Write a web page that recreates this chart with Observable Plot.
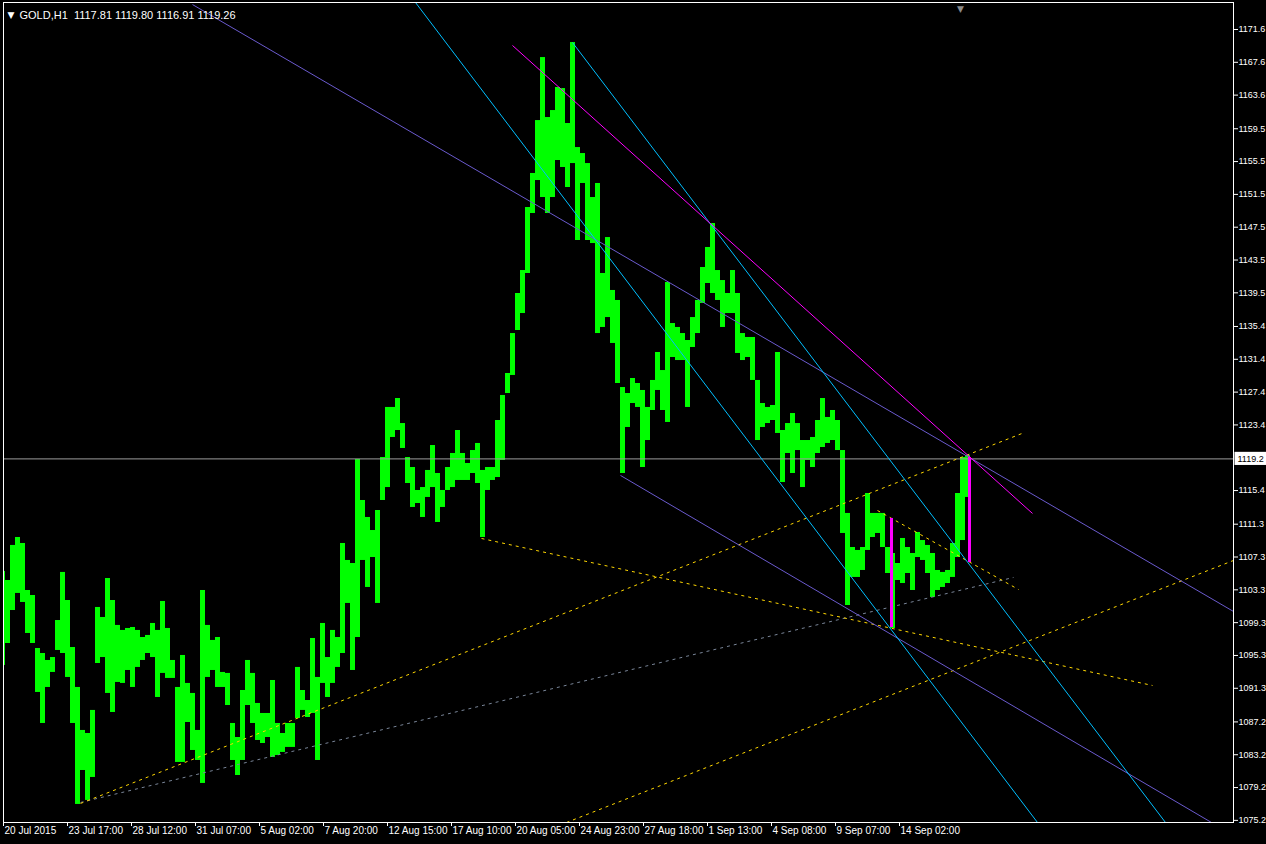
<!DOCTYPE html>
<html>
<head>
<meta charset="utf-8">
<script src="https://cdn.jsdelivr.net/npm/d3@7"></script>
<script src="https://cdn.jsdelivr.net/npm/@observablehq/plot@0.6"></script>
<style>
  html, body { margin: 0; padding: 0; background: #000; overflow: hidden; }
  #chart svg { display: block; }
</style>
</head>
<body>
<div id="chart"></div>
<script>
// ---- Data (GOLD, H1, each entry summarises 5 hourly bars) ----
const symbolTitle = "GOLD,H1  1117.81 1119.80 1116.91 1119.26";
const lastPrice = 1119.26;
const lastPriceLabel = "1119.2";
const hoursPerBar = 5;

const highs = [
  1105.54,1104.44,1108.71,1109.68,1108.95,1103.22,1102.61,1096.15,1095.54,1094.69,
  1095.05,1099.56,1105.42,1102.00,1096.27,1091.40,1086.16,1085.79,1088.60,1101.15,
  1099.93,1104.68,1102.00,1098.96,1098.35,1098.59,1098.71,1098.35,1097.49,1097.74,
  1099.20,1098.35,1101.88,1098.59,1094.69,1091.40,1095.30,1091.89,1090.67,1086.16,
  1103.22,1098.96,1097.13,1097.49,1093.23,1093.11,1087.01,1085.30,1091.03,1094.69,
  1093.11,1089.45,1088.23,1088.23,1092.25,1087.01,1085.79,1087.01,1087.01,1093.84,
  1091.03,1089.81,1097.37,1092.62,1099.20,1095.05,1098.35,1097.49,1108.95,1106.88,
  1106.51,1119.19,1114.19,1112.12,1110.53,1112.97,1119.43,1125.53,1125.53,1126.62,
  1123.57,1119.43,1118.21,1115.41,1115.77,1117.85,1120.89,1117.48,1115.41,1118.21,
  1119.92,1122.72,1119.92,1118.70,1120.28,1121.14,1117.85,1118.21,1118.21,1123.94,
  1126.99,1129.67,1134.54,1139.42,1142.22,1149.90,1154.05,1160.50,1168.18,1160.87,
  1161.72,1164.53,1164.40,1160.14,1170.01,1157.21,1156.48,1155.26,1151.12,1152.83,
  1141.86,1146.24,1139.79,1138.57,1127.96,1127.23,1129.06,1128.45,1127.60,1125.53,
  1128.82,1132.23,1130.03,1140.76,1135.76,1135.28,1134.54,1133.69,1136.49,1138.57,
  1142.59,1145.03,1147.95,1142.22,1141.00,1139.42,1142.22,1139.42,1134.54,1134.06,
  1134.06,1128.82,1126.01,1125.53,1125.77,1132.23,1122.72,1123.57,1124.79,1123.57,
  1121.50,1121.50,1121.87,1123.94,1126.62,1124.31,1125.16,1123.94,1120.28,1112.61,
  1108.46,1108.10,1108.46,1115.04,1112.61,1112.61,1112.61,1108.46,1107.73,1106.51,
  1109.56,1108.46,1107.73,1110.29,1109.31,1108.71,1107.73,1105.66,1105.42,1105.66,
  1108.95,1115.04,1119.43,1119.67
];
const lows = [
  1094.08,1096.76,1100.78,1102.86,1101.76,1097.98,1096.76,1090.79,1087.01,1091.40,
  1093.23,1095.91,1095.54,1092.62,1087.01,1077.14,1081.28,1077.63,1080.43,1094.32,
  1095.05,1090.67,1088.35,1092.01,1091.89,1093.47,1091.40,1093.84,1094.69,1095.54,
  1095.05,1090.18,1093.11,1092.50,1092.50,1082.26,1082.26,1087.13,1083.72,1082.50,
  1079.70,1092.62,1093.47,1091.40,1091.40,1089.20,1082.50,1080.67,1082.50,1089.20,
  1087.01,1084.94,1084.57,1085.30,1082.87,1083.11,1083.48,1084.09,1084.09,1087.62,
  1088.60,1087.74,1088.23,1082.50,1091.89,1090.18,1091.89,1093.84,1095.54,1101.64,
  1093.47,1097.49,1106.88,1103.59,1107.24,1101.64,1114.19,1115.77,1121.87,1122.72,
  1120.53,1116.26,1113.34,1113.82,1112.12,1114.56,1115.77,1111.51,1113.34,1115.41,
  1115.77,1116.63,1116.63,1116.63,1117.48,1116.26,1109.68,1115.41,1116.63,1116.99,
  1119.07,1127.23,1129.43,1134.91,1136.98,1141.86,1149.17,1153.19,1151.12,1149.17,
  1151.12,1155.63,1154.78,1152.34,1155.26,1145.88,1152.83,1145.88,1145.51,1134.54,
  1135.28,1136.49,1133.33,1128.45,1117.48,1123.09,1126.01,1125.53,1118.21,1121.50,
  1125.16,1127.60,1125.16,1123.70,1131.62,1131.25,1131.25,1125.53,1132.84,1134.54,
  1138.20,1140.64,1139.42,1138.57,1135.28,1136.98,1136.98,1132.11,1131.25,1131.62,
  1128.82,1121.50,1123.09,1123.57,1123.94,1122.36,1116.38,1119.92,1117.48,1120.28,
  1115.77,1119.07,1118.21,1119.92,1120.65,1121.14,1121.50,1120.28,1110.17,1101.39,
  1104.81,1104.81,1105.66,1108.10,1109.68,1110.17,1108.46,1105.29,1098.59,1104.44,
  1104.07,1105.29,1103.22,1107.24,1106.88,1105.29,1102.37,1103.22,1103.59,1104.07,
  1104.81,1107.24,1109.31,1114.56
];

// price axis labels (right); the 1119.4 level is hidden under the last-price box
const priceTicks = [1171.6,1167.6,1163.6,1159.5,1155.5,1151.5,1147.5,1143.5,1139.5,1135.4,
  1131.4,1127.4,1123.4,1115.4,1111.3,1107.3,1103.3,1099.3,1095.3,1091.3,1087.2,
  1083.2,1079.2,1075.2];

// time axis labels (bottom), bar index of each label
const timeTickBars = [0,64,128,192,256,320,384,448,512,576,640,704,768,832,896];
const timeLabels = ["20 Jul 2015","23 Jul 17:00","28 Jul 12:00","31 Jul 07:00","5 Aug 02:00",
  "7 Aug 20:00","12 Aug 15:00","17 Aug 10:00","20 Aug 05:00","24 Aug 23:00","27 Aug 18:00",
  "1 Sep 13:00","4 Sep 08:00","9 Sep 07:00","14 Sep 02:00"];

// trend lines: [bar1, price1, bar2, price2]
const violetLines = [[189,1174.64,1230,1100.66],[617,1117.24,1208,1074.94]];
const cyanLines = [[412,1174.89,1034,1074.94],[569,1170.01,1162,1074.94]];
const magentaLines = [[509,1169.65,1029,1112.61]];
const magentaBars = [[888,1112.00,1098.71],[966,1119.43,1106.63]];
const yellowLines = [[77,1077.26,1021,1122.48],[478,1109.56,1149,1091.64],
  [563,1074.94,1230,1106.88],[874,1112.97,1015,1103.34]];
const grayLines = [[77,1077.38,1010,1104.81]];
const shiftMarkerBar = 957;

// ---- build ----
const bars = highs.map((h, i) => ({
  x1: Math.max(0, i * hoursPerBar - 3),
  x2: i * hoursPerBar + 2,
  high: h,
  low: lows[i]
}));
const toSeg = a => ({x1: a[0], y1: a[1], x2: a[2], y2: a[3]});
const labelMap = new Map(timeTickBars.map((b, i) => [b, timeLabels[i]]));

const chart = Plot.plot({
  width: 1266,
  height: 844,
  marginLeft: 3,
  marginRight: 33,
  marginTop: 2,
  marginBottom: 22,
  style: {
    background: "#000",
    color: "#fff",
    fontFamily: "'Liberation Sans', Arial, sans-serif",
    fontSize: "10px"
  },
  x: {domain: [0, 1230], axis: "bottom", ticks: timeTickBars, tickFormat: () => "", tickSize: 4, label: null},
  y: {domain: [1074.94, 1174.89], axis: "right", ticks: priceTicks, tickFormat: d => d.toFixed(1), tickSize: 4, tickPadding: 1, label: null},
  marks: [
    Plot.rect(bars, {x1: "x1", x2: "x2", y1: "low", y2: "high", fill: "#00ff00"}),
    Plot.ruleY([lastPrice], {stroke: "#9c9c9c", strokeWidth: 1}),
    Plot.link(grayLines.map(toSeg), {x1: "x1", y1: "y1", x2: "x2", y2: "y2", stroke: "#7a8699", strokeDasharray: "3,4", clip: true}),
    Plot.link(yellowLines.map(toSeg), {x1: "x1", y1: "y1", x2: "x2", y2: "y2", stroke: "#ffd700", strokeDasharray: "3,4", clip: true}),
    Plot.link(violetLines.map(toSeg), {x1: "x1", y1: "y1", x2: "x2", y2: "y2", stroke: "#6a5acd", strokeWidth: 1, clip: true}),
    Plot.link(cyanLines.map(toSeg), {x1: "x1", y1: "y1", x2: "x2", y2: "y2", stroke: "#00bfff", strokeWidth: 1, clip: true}),
    Plot.link(magentaLines.map(toSeg), {x1: "x1", y1: "y1", x2: "x2", y2: "y2", stroke: "#ff00ff", strokeWidth: 1, clip: true}),
    Plot.ruleX(magentaBars, {x: d => d[0], y1: d => d[1], y2: d => d[2], stroke: "#ff00ff", strokeWidth: 3}),
    Plot.frame({stroke: "#fff"}),
    // time labels
    Plot.text(timeTickBars, {x: d => d, frameAnchor: "bottom", dy: 11, dx: 1, text: d => labelMap.get(d), textAnchor: "start", fill: "#fff"}),
    // last price box
    Plot.rect([lastPrice], {x1: () => 1231.5, x2: () => 1265, y1: d => d - 0.8, y2: d => d + 0.8, fill: "#fff"}),
    Plot.text([lastPrice], {x: () => 1230, y: d => d, dx: 4, text: () => lastPriceLabel, textAnchor: "start", fill: "#000", fontSize: 9}),
    // title
    Plot.text(["\u25BC"], {frameAnchor: "top-left", dx: 4, dy: 9, fill: "#fff", fontFamily: "DejaVu Sans", fontSize: 9, textAnchor: "start"}),
    Plot.text([symbolTitle], {frameAnchor: "top-left", dx: 16, dy: 9, fill: "#fff", textAnchor: "start", fontSize: 11}),
    // shift marker
    Plot.text([shiftMarkerBar], {x: d => d, frameAnchor: "top", dy: 3, text: () => "\u25BC", fill: "#8c8c8c", fontFamily: "DejaVu Sans", fontSize: 9})
  ]
});
// make the right-hand price labels fit inside the window
d3.select(chart).selectAll('g[aria-label="y-axis tick label"]').attr("font-size", "9px");
document.getElementById("chart").appendChild(chart);
</script>
</body>
</html>
